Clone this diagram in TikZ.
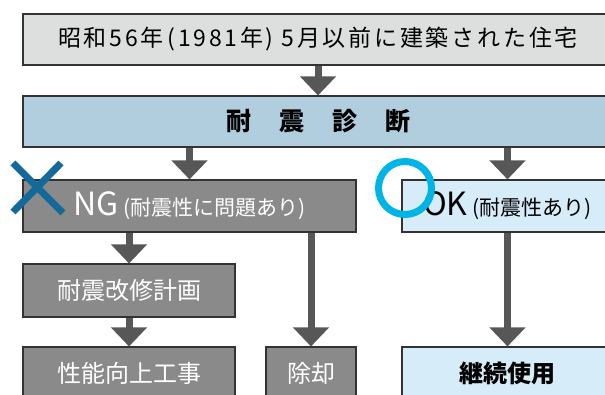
\documentclass[tikz,border=0pt]{standalone}
\usepackage{fontspec}
\setmainfont{Noto Sans CJK JP}
\newfontfamily\housefont[LetterSpace=12]{Noto Sans CJK JP}
\usetikzlibrary{arrows.meta}
\definecolor{housegray}{RGB}{221,222,222}
\definecolor{diagblue}{RGB}{177,206,222}
\definecolor{nggray}{RGB}{138,138,138}
\definecolor{okblue}{RGB}{214,236,249}
\definecolor{arrgray}{RGB}{88,87,87}
\definecolor{crossblue}{RGB}{19,105,154}
\definecolor{ringcyan}{RGB}{0,181,230}
\begin{document}
\begin{tikzpicture}[x=1pt, y=-1pt,
		box/.style={draw=black!80, line width=1.1pt, rectangle, inner sep=0pt, minimum height=52pt},
		ngbox/.style={box, fill=nggray, text=white},
		okbox/.style={box, fill=okblue},
		lower/.style={minimum height=53pt, font=\fontsize{24}{24}\selectfont},
		flow/.style={draw=arrgray, line width=7pt, -{Triangle[length=19pt,width=35pt]}}]
		%\draw [thin, help lines] (0,0) grid[step=50] (605,395);
		\useasboundingbox (0,0) rectangle (605,395);
		\clip (0,0) rectangle (605,395);
		\node [box, fill=housegray, minimum width=590pt, minimum height=51pt] (house) at (318,39.5) {\fontsize{23}{23}\selectfont\housefont 昭和56年\,(1981年)\ 5月以前に建築された住宅};
		\node [box, fill=diagblue, minimum width=590pt, minimum height=51pt] (diag) at (318,121.5) {\fontsize{25}{25}\selectfont\bfseries 耐\hspace{28pt}震\hspace{28pt}診\hspace{28pt}断};
		\node [ngbox, minimum width=333pt] (ng) at (189.5,206) {\fontsize{32}{32}\selectfont NG\,\fontsize{21}{21}\selectfont(耐震性に問題あり)};
		\node [okbox, minimum width=211pt] (ok) at (507.5,206) {\fontsize{32}{32}\selectfont OK\,\fontsize{21}{21}\selectfont(耐震性あり)};
		\node [ngbox, lower, minimum width=212pt] (plan) at (129,290.5) {耐震改修計画};
		\node [ngbox, lower, minimum width=212pt] (work) at (129,373.5) {性能向上工事};
		\node [ngbox, lower, minimum width=90pt] (demo) at (311,373.5) {除却};
		\node [okbox, lower, minimum width=211pt] (keep) at (507.5,373.5) {\bfseries 継続使用};
		\draw [flow] (house) -- (diag);
		\draw [flow] (diag.south -| ng.north) -- (ng.north);
		\draw [flow] (diag.south -| ok.north) -- (ok.north);
		\draw [flow] (ng.south -| plan.north) -- (plan.north);
		\draw [flow] (plan) -- (work);
		\draw [flow] (ng.south -| demo.north) -- (demo.north);
		\draw [flow] (ok) -- (keep);
		% marks
		\draw [crossblue, line width=7pt] (13,163) -- (63,213) (61,163) -- (13,212);
		\draw [ringcyan, line width=7pt] (405,188) circle [radius=26.5];
	\end{tikzpicture}
\end{document}
